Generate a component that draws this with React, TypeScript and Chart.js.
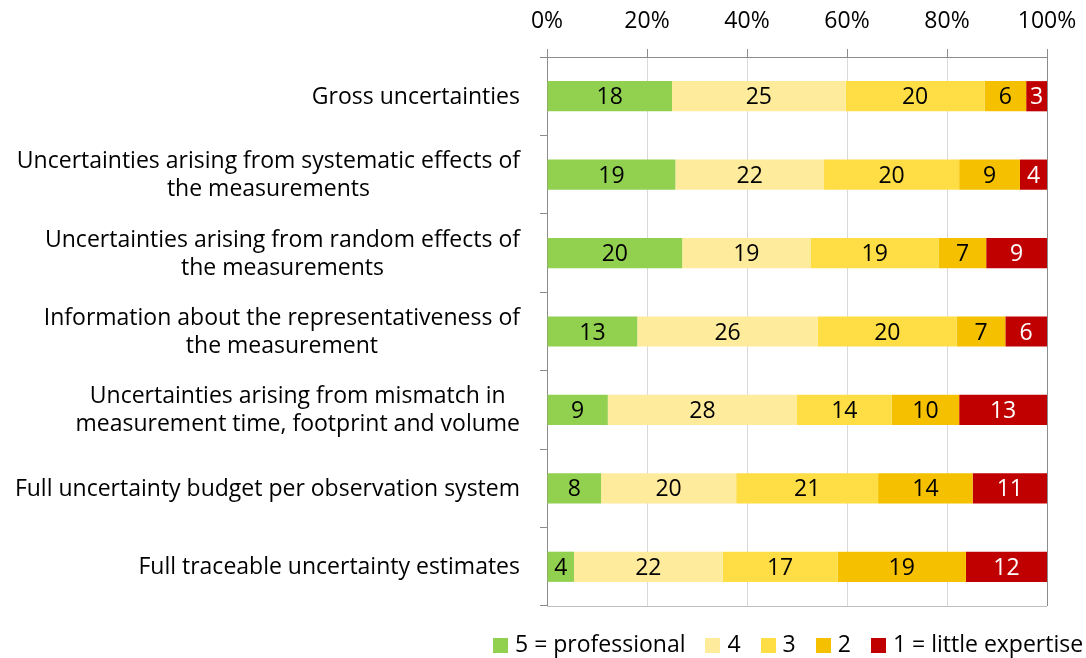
import React, { useEffect, useRef } from 'react';
import { Chart, registerables } from 'chart.js';
Chart.register(...registerables);

const categories: string[][] = [
  ['Gross uncertainties'],
  ['Uncertainties arising from systematic effects of', 'the measurements'],
  ['Uncertainties arising from random effects of', 'the measurements'],
  ['Information about the representativeness of', 'the measurement'],
  ['Uncertainties arising from mismatch in', 'measurement time, footprint and volume'],
  ['Full uncertainty budget per observation system'],
  ['Full traceable uncertainty estimates'],
];
const seriesNames = ['5 = professional', '4', '3', '2', '1 = little expertise'];
const professional = [18, 19, 20, 13, 9, 8, 4];
const level4 = [25, 22, 19, 26, 28, 20, 22];
const level3 = [20, 20, 19, 20, 14, 21, 17];
const level2 = [6, 9, 7, 7, 10, 14, 19];
const littleExpertise = [3, 4, 9, 6, 13, 11, 12];
const xTickValues = [0, 20, 40, 60, 80, 100];

const colors = ['#92D050', '#FFEB9C', '#FFDD45', '#F5C000', '#C00000'];
const labelColors = ['#000000', '#000000', '#000000', '#000000', '#FFFFFF'];
const FONT = '"Open Sans"';
const FS = 23;

const counts = [professional, level4, level3, level2, littleExpertise];
const totals = categories.map((_, i) => counts.reduce((s, arr) => s + arr[i], 0));

const overlayPlugin = {
  id: 'overlay',
  afterDatasetsDraw(chart: any) {
    const ctx = chart.ctx;
    const ca = chart.chartArea;
    // bottom line
    ctx.save();
    ctx.strokeStyle = '#BFBFBF';
    ctx.lineWidth = 1;
    ctx.beginPath();
    ctx.moveTo(ca.left, Math.round(ca.bottom) + 0.5);
    ctx.lineTo(ca.right, Math.round(ca.bottom) + 0.5);
    ctx.stroke();
    // data labels
    ctx.font = `${FS}px ${FONT}`;
    ctx.textAlign = 'center';
    ctx.textBaseline = 'middle';
    chart.data.datasets.forEach((ds: any, di: number) => {
      const meta = chart.getDatasetMeta(di);
      meta.data.forEach((el: any, i: number) => {
        const cx = (el.x + el.base) / 2;
        ctx.fillStyle = labelColors[di];
        ctx.fillText(String(ds.counts[i]), cx, el.y + 1.5);
      });
    });
    // category labels
    const yScale = chart.scales.y;
    ctx.fillStyle = '#000000';
    categories.forEach((lines, i) => {
      const yc = yScale.getPixelForValue(i) + 1;
      const w = Math.max(...lines.map((l) => ctx.measureText(l).width));
      const right = ca.left - 27;
      const cx = right - w / 2;
      const lh = 28;
      const y0 = yc - ((lines.length - 1) * lh) / 2;
      lines.forEach((l, k) => ctx.fillText(l, cx, y0 + k * lh));
    });
    // legend
    ctx.textAlign = 'left';
    const box = 15;
    const gapBT = 7;
    const gapItem = 20;
    const widths = seriesNames.map((n) => ctx.measureText(n).width);
    const totalW = widths.reduce((s, w) => s + box + gapBT + w, 0) + gapItem * (seriesNames.length - 1);
    let x = Math.round(1083 - totalW);
    const ly = 645.5;
    seriesNames.forEach((n, i) => {
      ctx.fillStyle = colors[i];
      ctx.fillRect(Math.round(x), 638, box, box);
      x += box + gapBT;
      ctx.fillStyle = '#000000';
      ctx.fillText(n, x, ly);
      x += widths[i] + gapItem;
    });
    ctx.restore();
  },
};

export default function App() {
  const ref = useRef<HTMLCanvasElement>(null);
  useEffect(() => {
    const chart = new Chart(ref.current!, {
      type: 'bar',
      data: {
        labels: categories.map((c) => c.join(' ')),
        datasets: counts.map((arr, di) => ({
          label: seriesNames[di],
          data: arr.map((v, i) => (v / totals[i]) * 100),
          counts: arr,
          backgroundColor: colors[di],
          borderWidth: 0,
          categoryPercentage: 1,
          barPercentage: 0.385,
        })) as any,
      },
      options: {
        indexAxis: 'y',
        animation: false,
        responsive: true,
        maintainAspectRatio: false,
        layout: { padding: { left: 0, top: 0, right: 39, bottom: 52 } },
        plugins: { legend: { display: false }, tooltip: { enabled: false } },
        scales: {
          x: {
            position: 'top',
            stacked: true,
            min: 0,
            max: 100,
            afterBuildTicks: (scale: any) => {
              scale.ticks = xTickValues.map((v) => ({ value: v }));
            },
            afterFit: (scale: any) => {
              scale.height = 57;
              scale.paddingLeft = 0;
              scale.paddingRight = 0;
            },
            ticks: {
              callback: (v: any) => v + '%',
              font: { family: FONT, size: FS },
              color: '#000000',
              padding: 14,
              maxRotation: 0,
            },
            grid: {
              color: (c: any) => (c.tick && c.tick.value === 100 ? '#8C8C8C' : '#D9D9D9'),
              tickColor: '#8C8C8C',
              tickLength: 8,
            },
            border: { color: '#8C8C8C' },
          },
          y: {
            stacked: true,
            afterFit: (scale: any) => {
              scale.width = 547;
            },
            ticks: { display: false },
            grid: {
              drawOnChartArea: false,
              tickLength: 7,
              color: '#8C8C8C',
              offset: true,
            },
            border: { color: '#8C8C8C' },
          },
        },
      } as any,
      plugins: [overlayPlugin],
    });
    return () => chart.destroy();
  }, []);
  return (
    <div style={{ position: 'absolute', left: 0, top: 0, width: 1086, height: 658 }}>
      <canvas ref={ref} />
    </div>
  );
}
